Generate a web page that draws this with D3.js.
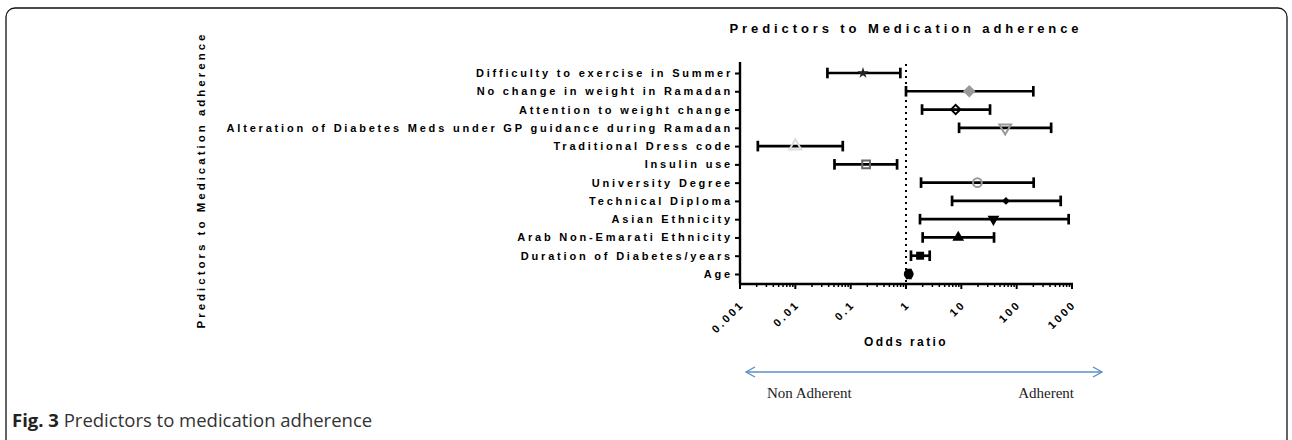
<!DOCTYPE html>
<html>
<head>
<meta charset="utf-8">
<script src="https://cdn.jsdelivr.net/npm/d3@7"></script>
<style>
  body { margin: 0; background: #fff; }
  svg { display: block; }
</style>
</head>
<body>
<div id="my_dataviz"></div>
<script>
// data
var predictors = [
    "Difficulty to exercise in Summer",
    "No change in weight in Ramadan",
    "Attention to weight change",
    "Alteration of Diabetes Meds under GP guidance during Ramadan",
    "Traditional Dress code",
    "Insulin use",
    "University Degree",
    "Technical Diploma",
    "Asian Ethnicity",
    "Arab Non-Emarati Ethnicity",
    "Duration of Diabetes/years",
    "Age"
];
var oddsRatio = [0.167, 13.9, 7.9, 62, 0.010, 0.19, 19.5, 64, 38, 8.8, 1.8, 1.12];
var ciLow     = [0.038, 1.0, 1.95, 9.1, 0.0021, 0.051, 1.87, 6.8, 1.79, 2.0, 1.23, 1.05];
var ciHigh    = [0.79, 200, 33, 420, 0.072, 0.69, 203, 625, 870, 39, 2.68, 1.2];
var tickValues = [0.001, 0.01, 0.1, 1, 10, 100, 1000];
var tickLabels = ["0.001", "0.01", "0.1", "1", "10", "100", "1000"];

// marker style per row (shape, fill, stroke)
var markers = [
    { shape: d3.symbolStar, size: 40, fill: "#222", stroke: "none" },
    { shape: d3.symbolDiamond2, size: 60, fill: "#999", stroke: "#999" },
    { shape: d3.symbolDiamond2, size: 55, fill: "none", stroke: "#000" },
    { shape: d3.symbolTriangle, size: 60, fill: "none", stroke: "#999", rot: 180 },
    { shape: d3.symbolTriangle, size: 60, fill: "none", stroke: "#ddd" },
    { shape: d3.symbolSquare, size: 60, fill: "none", stroke: "#666" },
    { shape: d3.symbolCircle, size: 60, fill: "none", stroke: "#999" },
    { shape: d3.symbolDiamond2, size: 40, fill: "#000", stroke: "none" },
    { shape: d3.symbolTriangle, size: 60, fill: "#000", stroke: "none", rot: 180 },
    { shape: d3.symbolTriangle, size: 60, fill: "#000", stroke: "none" },
    { shape: d3.symbolSquare, size: 64, fill: "#000", stroke: "none" },
    { shape: d3.symbolCircle, size: 75, fill: "#000", stroke: "none" }
];

var W = 1292, H = 440;
var svg = d3.select("#my_dataviz")
    .append("svg")
    .attr("width", W)
    .attr("height", H);

// rounded frame
svg.append("rect")
    .attr("x", 6).attr("y", 8)
    .attr("width", 1281).attr("height", 460)
    .attr("rx", 9)
    .attr("fill", "none")
    .attr("stroke", "#111")
    .attr("stroke-width", 1.3);

var plot = { left: 740, right: 1072, top: 62, bottom: 284 };
var bold = "'Liberation Sans', Arial, sans-serif";

var x = d3.scaleLog()
    .domain([0.001, 1000])
    .range([plot.left, plot.right]);

var y = d3.scalePoint()
    .domain(predictors)
    .range([73, 274]);

// title
svg.append("text")
    .attr("x", 906).attr("y", 33)
    .attr("text-anchor", "middle")
    .style("font-family", bold)
    .style("font-weight", "bold")
    .style("font-size", "13px")
    .style("letter-spacing", "3.9px")
    .text("Predictors to Medication adherence");

// y axis title
svg.append("text")
    .attr("transform", "translate(205,180)rotate(-90)")
    .attr("text-anchor", "middle")
    .style("font-family", bold)
    .style("font-weight", "bold")
    .style("font-size", "11.5px")
    .style("letter-spacing", "3px")
    .text("Predictors to Medication adherence");

// y axis
var yAxis = svg.append("g")
    .attr("transform", "translate(" + plot.left + ",0)")
    .call(d3.axisLeft(y).tickSize(5).tickPadding(2));
yAxis.select(".domain").remove();
yAxis.selectAll(".tick line").attr("stroke", "#000").attr("stroke-width", 2);
yAxis.selectAll("text")
    .style("font-family", bold)
    .style("font-weight", "bold")
    .style("font-size", "11px")
    .style("letter-spacing", "2.8px");
svg.append("line")
    .attr("x1", plot.left).attr("x2", plot.left)
    .attr("y1", plot.top).attr("y2", plot.bottom)
    .attr("stroke", "#000").attr("stroke-width", 2.4);

// x axis with minor ticks
var minor = [];
for (var e = -3; e < 3; e++) {
    for (var m = 2; m <= 9; m++) minor.push(m * Math.pow(10, e));
}
var xg = svg.append("g").attr("transform", "translate(0," + plot.bottom + ")");
xg.selectAll(".minor")
    .data(minor)
    .enter().append("line")
    .attr("x1", d => x(d)).attr("x2", d => x(d))
    .attr("y1", 0).attr("y2", 3)
    .attr("stroke", "#000").attr("stroke-width", 1.5);
xg.selectAll(".major")
    .data(tickValues)
    .enter().append("line")
    .attr("x1", d => x(d)).attr("x2", d => x(d))
    .attr("y1", 0).attr("y2", 5)
    .attr("stroke", "#000").attr("stroke-width", 2);
xg.append("line")
    .attr("x1", plot.left - 1).attr("x2", plot.right + 1)
    .attr("stroke", "#000").attr("stroke-width", 2.4);
xg.selectAll(".tlab")
    .data(tickValues)
    .enter().append("text")
    .attr("transform", (d, i) => "translate(" + (x(d) + 5) + ",21)rotate(-45)")
    .attr("text-anchor", "end")
    .style("font-family", bold)
    .style("font-weight", "bold")
    .style("font-size", "11px")
    .style("letter-spacing", "2.6px")
    .text((d, i) => tickLabels[i]);

svg.append("text")
    .attr("x", 906).attr("y", 346)
    .attr("text-anchor", "middle")
    .style("font-family", bold)
    .style("font-weight", "bold")
    .style("font-size", "12px")
    .style("letter-spacing", "2.4px")
    .text("Odds ratio");

// reference line at OR = 1
svg.append("line")
    .attr("x1", x(1)).attr("x2", x(1))
    .attr("y1", plot.top + 2).attr("y2", plot.bottom)
    .attr("stroke", "#000")
    .attr("stroke-width", 2)
    .attr("stroke-dasharray", "2,4");

// error bars
var rows = predictors.map((p, i) => ({ p: p, or: oddsRatio[i], lo: ciLow[i], hi: ciHigh[i], mk: markers[i] }));
var bars = svg.append("g").selectAll("g")
    .data(rows)
    .enter().append("g");
bars.append("line")
    .attr("x1", d => x(d.lo)).attr("x2", d => x(d.hi))
    .attr("y1", d => y(d.p)).attr("y2", d => y(d.p))
    .attr("stroke", "#000").attr("stroke-width", 2.7);
bars.selectAll(".cap")
    .data(d => [d.lo, d.hi].map(v => ({ v: v, p: d.p })))
    .enter().append("line")
    .attr("x1", d => x(d.v)).attr("x2", d => x(d.v))
    .attr("y1", d => y(d.p) - 5.3).attr("y2", d => y(d.p) + 5.3)
    .attr("stroke", "#000").attr("stroke-width", 2.7);
bars.append("path")
    .attr("transform", d => "translate(" + x(d.or) + "," + y(d.p) + ")rotate(" + (d.mk.rot || 0) + ")")
    .attr("d", d => d3.symbol().type(d.mk.shape).size(d.mk.size)())
    .attr("fill", d => d.mk.fill)
    .attr("stroke", d => d.mk.stroke)
    .attr("stroke-width", 2);

// direction arrow
var arrowY = 372, ax0 = 746, ax1 = 1102;
svg.append("line")
    .attr("x1", ax0).attr("x2", ax1)
    .attr("y1", arrowY).attr("y2", arrowY)
    .attr("stroke", "#5b8cc8").attr("stroke-width", 1.3);
svg.append("path")
    .attr("d", "M" + (ax0 + 9) + "," + (arrowY - 5) + "L" + ax0 + "," + arrowY + "L" + (ax0 + 9) + "," + (arrowY + 5) +
        "M" + (ax1 - 9) + "," + (arrowY - 5) + "L" + ax1 + "," + arrowY + "L" + (ax1 - 9) + "," + (arrowY + 5))
    .attr("fill", "none")
    .attr("stroke", "#5b8cc8").attr("stroke-width", 1.3);
svg.append("text")
    .attr("x", 767).attr("y", 398)
    .style("font-family", "'Liberation Serif', 'Times New Roman', serif")
    .style("font-size", "15px")
    .attr("fill", "#222")
    .text("Non Adherent");
svg.append("text")
    .attr("x", 1074).attr("y", 398)
    .attr("text-anchor", "end")
    .style("font-family", "'Liberation Serif', 'Times New Roman', serif")
    .style("font-size", "15px")
    .attr("fill", "#222")
    .text("Adherent");

// caption
var cap = svg.append("text")
    .attr("x", 12).attr("y", 427)
    .style("font-family", "'Open Sans', 'Noto Sans', sans-serif")
    .style("font-size", "18.5px")
    .attr("fill", "#222");
cap.append("tspan").style("font-weight", "bold").text("Fig. 3");
cap.append("tspan").attr("fill", "#333").text(" Predictors to medication adherence");
</script>
</body>
</html>
